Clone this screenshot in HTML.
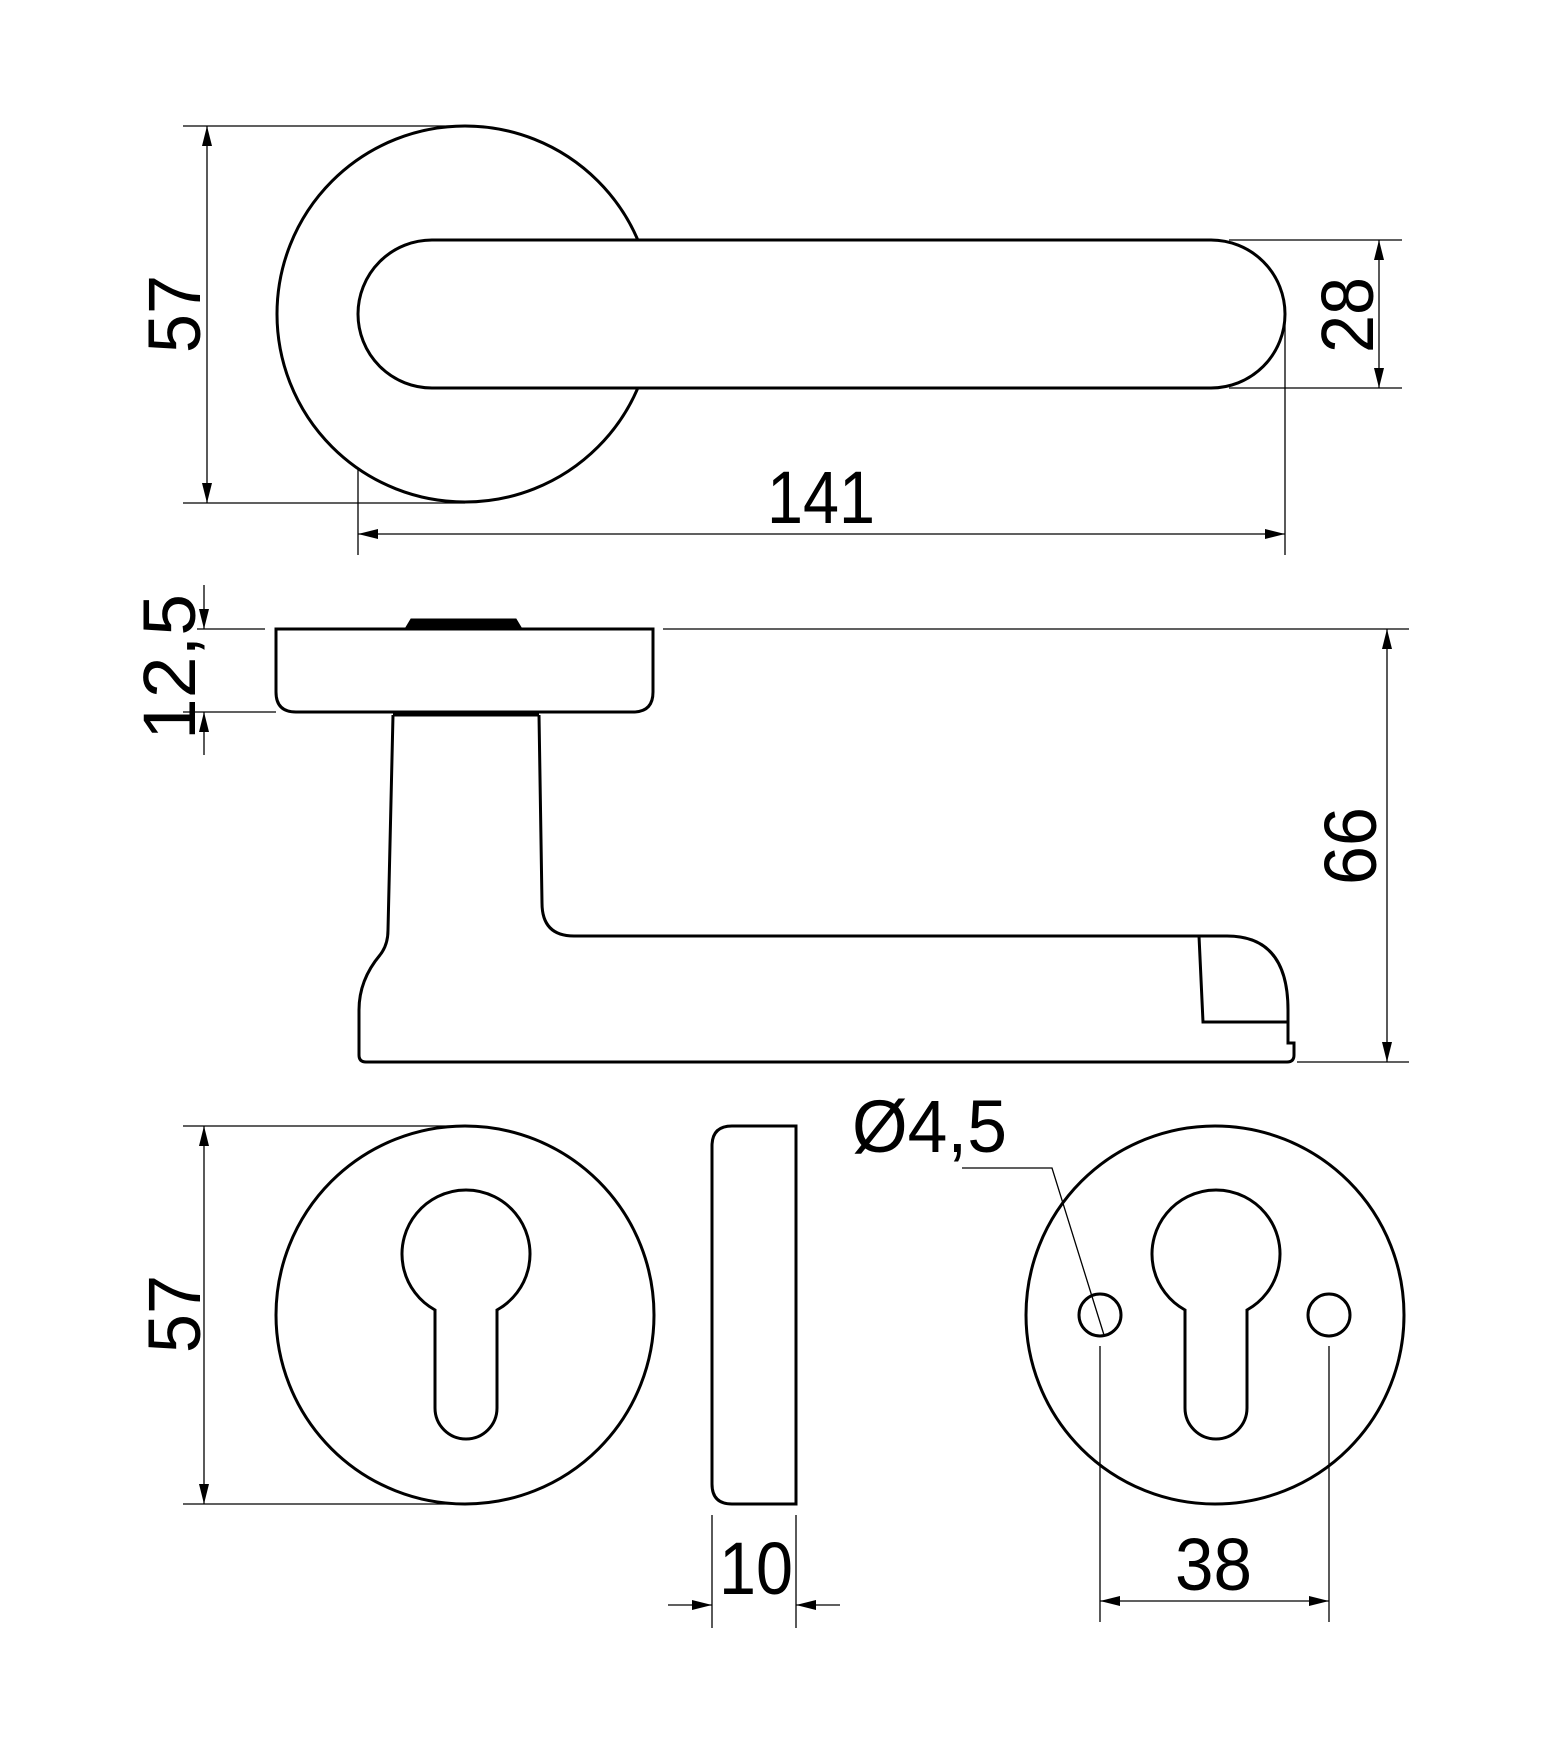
<!DOCTYPE html>
<html><head><meta charset="utf-8"><style>html,body{margin:0;padding:0;background:#fff}svg{display:block}text{font-family:"Liberation Sans",sans-serif;fill:#000}</style></head>
<body>
<svg width="1557" height="1761" viewBox="0 0 1557 1761" xmlns="http://www.w3.org/2000/svg">
<defs>
<marker id="a" viewBox="0 0 20 10" refX="20" refY="5" markerWidth="20" markerHeight="10" markerUnits="userSpaceOnUse" orient="auto-start-reverse"><path d="M0,0 L20,5 L0,10 Z" fill="#000"/></marker>
</defs>
<g fill="none" stroke="#000" stroke-width="1.3">
<!-- top view dims -->
<line x1="183" y1="126" x2="465" y2="126"/>
<line x1="183" y1="503" x2="465" y2="503"/>
<line x1="207" y1="126" x2="207" y2="503" marker-start="url(#a)" marker-end="url(#a)"/>
<line x1="1229" y1="240" x2="1402" y2="240"/>
<line x1="1229" y1="388" x2="1402" y2="388"/>
<line x1="1379" y1="240" x2="1379" y2="388" marker-start="url(#a)" marker-end="url(#a)"/>
<line x1="358" y1="320" x2="358" y2="555"/>
<line x1="1285" y1="320" x2="1285" y2="555"/>
<line x1="358" y1="534" x2="1285" y2="534" marker-start="url(#a)" marker-end="url(#a)"/>
<!-- side view dims -->
<line x1="197" y1="629" x2="265" y2="629"/>
<line x1="663" y1="629" x2="1409" y2="629"/>
<line x1="183" y1="712" x2="276" y2="712"/>
<line x1="204" y1="585" x2="204" y2="629" marker-end="url(#a)"/>
<line x1="204" y1="755" x2="204" y2="712" marker-end="url(#a)"/>
<line x1="1297" y1="1062" x2="1409" y2="1062"/>
<line x1="1387" y1="629" x2="1387" y2="1062" marker-start="url(#a)" marker-end="url(#a)"/>
<!-- bottom dims -->
<line x1="183" y1="1126" x2="465" y2="1126"/>
<line x1="183" y1="1504" x2="465" y2="1504"/>
<line x1="204" y1="1126" x2="204" y2="1504" marker-start="url(#a)" marker-end="url(#a)"/>
<line x1="712" y1="1515" x2="712" y2="1628"/>
<line x1="796" y1="1515" x2="796" y2="1628"/>
<line x1="668" y1="1605" x2="712" y2="1605" marker-end="url(#a)"/>
<line x1="840" y1="1605" x2="796" y2="1605" marker-end="url(#a)"/>
<line x1="1100" y1="1346" x2="1100" y2="1622"/>
<line x1="1329" y1="1346" x2="1329" y2="1622"/>
<line x1="1100" y1="1601" x2="1329" y2="1601" marker-start="url(#a)" marker-end="url(#a)"/>
<polyline points="962,1168 1052,1168 1104,1335"/>
</g>
<g fill="none" stroke="#000" stroke-width="3">
<!-- top view -->
<circle cx="465" cy="314" r="188" fill="#fff"/>
<path d="M432,240 L1211,240 A74,74 0 0 1 1211,388 L432,388 A74,74 0 0 1 432,240 Z" fill="#fff"/>
<!-- side view -->
<path d="M276,629 L276,692 Q276,712 296,712 L633,712 Q653,712 653,692 L653,629 Z" fill="#fff"/>
<path d="M405,629 L411,619 L516,619 L522,629 Z" fill="#000" stroke-width="1"/>
<line x1="393" y1="714" x2="539" y2="714" stroke-width="5"/>
<path d="M393,715 L388,930 Q388,945 380,955 Q359,980 359,1010 L359,1055 Q359,1062 366,1062 L1287,1062 Q1294,1062 1294,1055 L1294,1043 L1288,1043 L1288,1010 Q1288,936 1227,936 L574,936 Q542,936 542,903 L539,715"/>
<polyline points="1199,936 1203,1022 1288,1022"/>
<!-- bottom left rosette -->
<circle cx="465" cy="1315" r="189"/>
<path d="M435,1310 A64,64 0 1 1 497,1310 L497,1408 A31,31 0 0 1 435,1408 Z"/>
<!-- side rosette -->
<path d="M796,1126 L732,1126 Q712,1126 712,1146 L712,1484 Q712,1504 732,1504 L796,1504 Z"/>
<!-- right rosette -->
<circle cx="1215" cy="1315" r="189"/>
<path d="M1185,1310 A64,64 0 1 1 1247,1310 L1247,1408 A31,31 0 0 1 1185,1408 Z"/>
<circle cx="1100" cy="1315" r="21"/>
<circle cx="1329" cy="1315" r="21"/>
</g>
<g font-size="74">
<text x="767" y="523" textLength="108" lengthAdjust="spacingAndGlyphs">141</text>
<text x="719" y="1594" textLength="74" lengthAdjust="spacingAndGlyphs">10</text>
<text x="1175" y="1590" textLength="77" lengthAdjust="spacingAndGlyphs">38</text>
<text x="852" y="1152" textLength="155" lengthAdjust="spacingAndGlyphs">Ø4,5</text>
<text transform="translate(200,353) rotate(-90)" textLength="78" lengthAdjust="spacingAndGlyphs">57</text>
<text transform="translate(200,1353) rotate(-90)" textLength="78" lengthAdjust="spacingAndGlyphs">57</text>
<text transform="translate(1373,353) rotate(-90)" textLength="76" lengthAdjust="spacingAndGlyphs">28</text>
<text transform="translate(1376,885) rotate(-90)" textLength="78" lengthAdjust="spacingAndGlyphs">66</text>
<text transform="translate(195,740) rotate(-90)" textLength="146" lengthAdjust="spacingAndGlyphs">12,5</text>
</g>
</svg>
</body></html>
